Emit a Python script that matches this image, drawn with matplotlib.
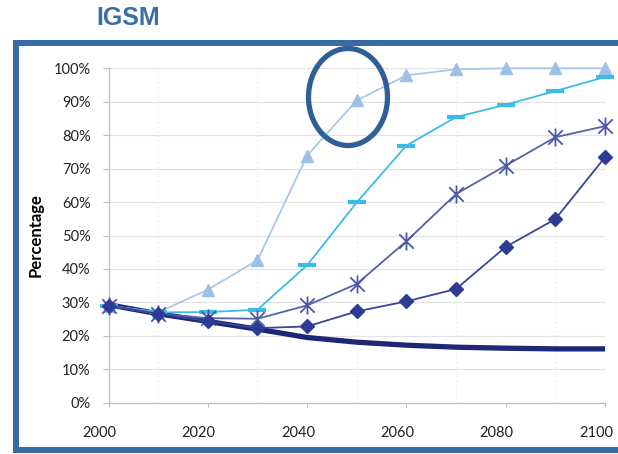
import matplotlib
matplotlib.use("Agg")
import matplotlib.pyplot as plt
import matplotlib.transforms as mtransforms
from matplotlib.patches import Ellipse, Rectangle
from matplotlib.path import Path
import numpy as np

years = [2000, 2010, 2020, 2030, 2040, 2050, 2060, 2070, 2080, 2090, 2100]

triangle_vals = [29, 27, 33.8, 42.6, 73.9, 90.4, 97.9, 99.7, 100, 100, 100]
dash_vals = [29, 27, 27.1, 27.8, 41.1, 59.9, 76.9, 85.4, 89.1, 93.2, 97.4]
star_vals = [29, 26.6, 25.3, 25.1, 29.1, 35.5, 48.3, 62.4, 70.9, 79.4, 82.7]
diamond_vals = [29, 26.6, 24.4, 22.3, 22.8, 27.3, 30.3, 34.0, 46.6, 54.9, 73.4]
base_vals = [29.3, 26.6, 24.3, 22.0, 19.5, 18.1, 17.2, 16.6, 16.3, 16.1, 16.1]

y_ticks = list(range(0, 101, 10))
y_labels = ["%d%%" % v for v in y_ticks]
x_ticks = [2000, 2020, 2040, 2060, 2080, 2100]

plt.rcParams['font.family'] = ['Lato', 'DejaVu Sans']

W, H = 618, 454
fig = plt.figure(figsize=(W / 100, H / 100), dpi=100)
ax = fig.add_axes([108.5 / W, 1 - 402.7 / H, (605 - 108.5) / W, (402.7 - 68.3) / H])

# asterisk marker: vertical bar plus an X
ast = Path([(0, -1), (0, 1), (-0.8, -0.8), (0.8, 0.8), (-0.8, 0.8), (0.8, -0.8)],
           [Path.MOVETO, Path.LINETO, Path.MOVETO, Path.LINETO, Path.MOVETO, Path.LINETO])

ax.plot(years, base_vals, color='#1f2678', lw=3.8, solid_capstyle='butt', zorder=3)
ax.plot(years, triangle_vals, color='#a9c7e8', lw=1.3, marker='^', ms=9,
        mfc='#9dc0e6', mec='#9dc0e6', clip_on=False, zorder=4)
ax.plot(years, dash_vals, color='#3cbbe6', lw=1.3, marker='_', ms=13, mew=3,
        mec='#3cbbe6', clip_on=False, zorder=4)
ax.plot(years, star_vals, color='#5563a8', lw=1.3, marker=ast, ms=13, mew=1.3,
        mec='#4a5aa6', clip_on=False, zorder=5)
ax.plot(years, diamond_vals, color='#39459a', lw=1.3, marker='D', ms=7,
        mfc='#2e3b95', mec='#2e3b95', clip_on=False, zorder=6)

ax.set_xlim(2000, 2100)
ax.set_ylim(0, 100)
ax.set_xticks(x_ticks)
ax.set_xticks(years, minor=True)
ax.set_yticks(y_ticks)
ax.set_yticklabels(y_labels)
ax.grid(axis='y', color='#e3e3e3', lw=0.9)
ax.grid(axis='x', which='minor', color='#e6e6e6', lw=0.8, ls=(0, (1, 3)))
ax.set_axisbelow(True)
for s in ['top', 'right']:
    ax.spines[s].set_visible(False)
for s in ['left', 'bottom']:
    ax.spines[s].set_color('#bdbdbd')
    ax.spines[s].set_linewidth(0.9)
ax.tick_params(axis='x', which='major', length=3, color='#bdbdbd', pad=14,
               labelsize=10.5, labelcolor='#222222')
ax.tick_params(axis='x', which='minor', length=0)
ax.tick_params(axis='y', length=4, color='#bdbdbd', pad=9, labelsize=10.5,
               labelcolor='#222222')
ax.set_ylabel('Percentage', fontsize=12, fontweight='bold', labelpad=7)

# x labels sit a little left of their ticks in the original
shift = mtransforms.ScaledTranslation(-9 / 100, 0, fig.dpi_scale_trans)
for lab in ax.get_xticklabels():
    lab.set_transform(lab.get_transform() + shift)

# title and frame
fig.text(96 / W, 1 - 18 / H, 'IGSM', fontsize=18, fontweight='bold',
         color='#3a6ea8', family=['Liberation Sans', 'DejaVu Sans'], va='center')
frame_c = '#386aa3'
fig.add_artist(Rectangle((13 / W, 1 - 46 / H), (W - 13) / W, 6 / H, transform=fig.transFigure,
                         color=frame_c, lw=0))
fig.add_artist(Rectangle((13 / W, 1 - 453 / H), 6 / W, (453 - 40) / H, transform=fig.transFigure,
                         color=frame_c, lw=0))
fig.add_artist(Rectangle((13 / W, 1 - 453 / H), (W - 13) / W, 6 / H, transform=fig.transFigure,
                         color=frame_c, lw=0))

fig.add_artist(Ellipse((348 / W, 1 - 97 / H), 79 / W, 97 / H, transform=fig.transFigure,
                       fill=False, ec='#2f5f98', lw=3.8, zorder=10))

fig.savefig('out.png', dpi=100)
